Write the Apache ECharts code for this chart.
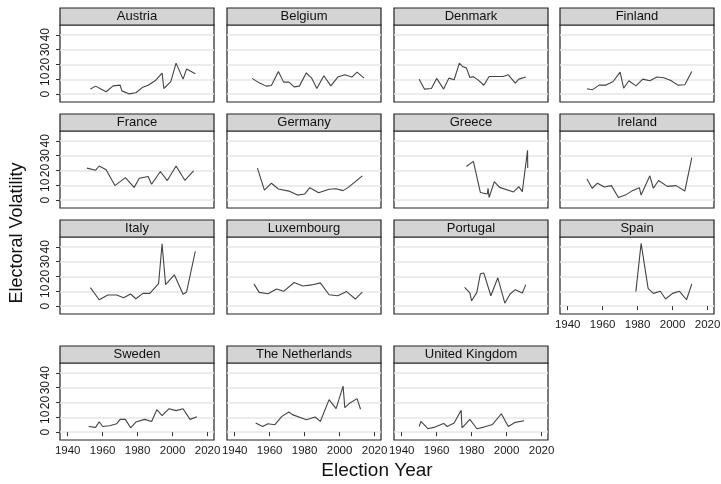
<!DOCTYPE html>
<html>
<head>
<meta charset="utf-8">
<script src="https://cdn.jsdelivr.net/npm/echarts@6/dist/echarts.min.js"></script>
<style>
html,body{margin:0;padding:0;background:#fff;}
#chart{width:721px;height:484px;}
</style>
</head>
<body>
<div id="chart"></div>
<script>
const countries = ['Austria','Belgium','Denmark','Finland','France','Germany','Greece','Ireland','Italy','Luxembourg','Portugal','Spain','Sweden','The Netherlands','United Kingdom'];
const xTicks = [1940,1960,1980,2000,2020];
const yTicks = [0,10,20,30,40];

const austria = [[1953,3.4],[1956,5.4],[1959,3.4],[1962,1.6],[1966,5.6],[1970,6.1],[1971,2.2],[1975,0.2],[1979,0.9],[1983,4.7],[1986,6],[1990,9],[1994,14.2],[1995,3.8],[1999,8.5],[2002,20.9],[2006,10.1],[2008,16.9],[2013,13.7]];
const belgium = [[1950,10.6],[1954,7.6],[1958,5.4],[1961,5.8],[1965,15.3],[1968,8.1],[1971,8.1],[1974,4.9],[1977,5.4],[1981,14.4],[1984,10.8],[1987,3.8],[1991,12.4],[1995,5.6],[1999,11.5],[2003,13],[2007,11.5],[2010,14.8],[2014,10.8]];
const denmark = [[1950,10.1],[1953,3.4],[1957,3.8],[1960,10.6],[1964,3.4],[1967,10.8],[1970,9.7],[1973,20.9],[1975,18.4],[1977,17.7],[1979,11.2],[1981,11.8],[1984,9.3],[1987,6],[1990,11.9],[1994,11.9],[1998,11.9],[2001,13],[2005,7.4],[2007,10.1],[2011,11.5]];
const finland = [[1951,3.6],[1954,2.9],[1958,6.1],[1962,6.1],[1966,8.5],[1970,14.8],[1972,4],[1975,9],[1979,5.6],[1983,10.1],[1987,9],[1991,11.5],[1995,11],[1999,9.2],[2003,6.1],[2007,6.3],[2011,15.3]];
const france = [[1951,21.6],[1956,20.2],[1958,23],[1962,20.5],[1967,9.8],[1973,15.2],[1978,8.6],[1981,14.8],[1986,15.9],[1988,10.7],[1993,19.3],[1997,13.2],[2002,23],[2007,13.4],[2012,19.8]];
const germany = [[1953,21.6],[1957,6.8],[1961,11.4],[1965,7.5],[1971,6.1],[1976,3.4],[1980,4.1],[1983,8.4],[1988,5],[1994,7.3],[1998,7.7],[2002,6.4],[2005,8.6],[2009,12.5],[2013,16.4]];
const greece = [[1977,22.7],[1981,26.1],[1985,5.2],[1989,4.1],[1989.4,8],[1990,1.8],[1993,12.5],[1996,8.6],[2004,5.5],[2007,9.1],[2009,5.7],[2012,33.6],[2012.1,21.6]];
const ireland = [[1951,14.3],[1954,8],[1957,11.4],[1961,8.9],[1965,9.8],[1969,1.8],[1973,3.4],[1977,6.4],[1981,8.4],[1982,3.4],[1987,16.4],[1989,8],[1992,13.2],[1997,9.3],[2002,9.8],[2007,6.1],[2011,28.6]];
const italy = [[1953,12.5],[1958,4.3],[1963,7.5],[1968,7.5],[1972,5.7],[1976,8.2],[1979,5],[1983,8.6],[1987,8.6],[1992,15.2],[1994,42],[1996,14.5],[2001,21.1],[2006,8],[2008,9.5],[2013,37]];
const luxembourg = [[1951,15],[1954,9.3],[1959,8.4],[1964,11.6],[1968,10],[1974,15.9],[1979,13.6],[1984,14.3],[1989,15.7],[1994,7.7],[1999,7],[2004,9.8],[2009,4.8],[2013,9.5]];
const portugal = [[1976,12.7],[1979,8.9],[1980,3.6],[1983,9.3],[1985,21.8],[1987,22.3],[1991,7],[1995,19.1],[1999,2],[2002,8.2],[2005,11.1],[2009,8.9],[2011,14.5]];
const spain = [[1979,9.8],[1982,42.3],[1986,12],[1989,8.6],[1993,10],[1996,4.8],[2000,8.6],[2004,10],[2008,4.3],[2011,15]];
const sweden = [[1952,3.8],[1956,3.2],[1958,7],[1960,3.8],[1964,4.3],[1968,5.6],[1970,8.6],[1973,8.6],[1976,2.9],[1979,6.8],[1984,8.6],[1988,7.2],[1991,15.1],[1994,11.1],[1998,15.8],[2002,14.5],[2006,15.8],[2010,8.6],[2014,10.4]];
const netherlands = [[1952,6.1],[1956,3.8],[1959,5.6],[1963,5],[1967,10.6],[1971,13.6],[1973,11.8],[1981,8.4],[1986,10.2],[1989,7.2],[1994,21.9],[1998,15.8],[2002,31],[2003,16.5],[2006,19.7],[2010,22.6],[2012,15.4]];
const uk = [[1950,3.8],[1951,7.2],[1955,2.3],[1959,3.4],[1964,5.9],[1966,3.8],[1970,6.1],[1974,14.7],[1974.5,2.9],[1979,8.6],[1983,2.3],[1987,3.4],[1992,5.2],[1997,12.4],[2001,3.8],[2005,6.6],[2010,7.7]];

const seriesValues = [austria,belgium,denmark,finland,france,germany,greece,ireland,italy,luxembourg,portugal,spain,sweden,netherlands,uk];

const FONT = '"Liberation Sans", Arial, Helvetica, sans-serif';
const colLeft = [60,227,394,560];
const rowTop = [25,131,237,363];
const W = 154, H = 77, STRIP = 17;

const grids = [], xAxes = [], yAxes = [], series = [], graphics = [];
countries.forEach((name, i) => {
  const r = Math.floor(i/4), c = i % 4;
  const showX = (i === 11) || r === 3;
  const showY = c === 0;
  grids.push({left: colLeft[c], top: rowTop[r], width: W, height: H, show: true,
    borderColor: '#222', borderWidth: 1.2, backgroundColor: '#fff', containLabel: false, outerBoundsMode: 'none'});
  xAxes.push({type: 'value', gridIndex: i, min: 1935.6, max: 2023.7,
    axisLine: {show: false}, splitLine: {show: false},
    axisTick: {show: showX, customValues: xTicks, length: 4, lineStyle: {color: '#333'}},
    axisLabel: {show: showX, customValues: xTicks, formatter: v => String(v), fontSize: 11.5, color: '#1a1a1a', margin: 5, fontFamily: FONT}});
  yAxes.push({type: 'value', gridIndex: i, min: -5.3, max: 46.6,
    axisLine: {show: false},
    axisTick: {show: showY, customValues: yTicks, length: 4, lineStyle: {color: '#333'}},
    axisLabel: {show: showY, customValues: yTicks, formatter: v => String(v), rotate: 90, fontSize: 12, color: '#1a1a1a', margin: 8, fontFamily: FONT},
    splitLine: {show: true, lineStyle: {color: '#e6e6e6', width: 1.5}}});
  series.push({type: 'line', xAxisIndex: i, yAxisIndex: i, data: seriesValues[i],
    showSymbol: false, symbol: 'none', lineStyle: {color: '#444', width: 1.1}, silent: true, animation: false});
  graphics.push({type: 'rect', shape: {x: colLeft[c], y: rowTop[r] - STRIP, width: W, height: STRIP},
    style: {fill: '#d4d4d4', stroke: '#222', lineWidth: 1.2}});
  graphics.push({type: 'text', x: colLeft[c] + W/2, y: rowTop[r] - STRIP/2,
    style: {text: name, font: '13px ' + FONT, fill: '#111', textAlign: 'center', textVerticalAlign: 'middle'}});
});
graphics.push({type: 'text', x: 17, y: 233, rotation: Math.PI/2,
  style: {text: 'Electoral Volatility', font: '18px ' + FONT, fill: '#111', textAlign: 'center', textVerticalAlign: 'middle'}});
graphics.push({type: 'text', x: 377, y: 471,
  style: {text: 'Election Year', font: '19px ' + FONT, fill: '#111', textAlign: 'center', textVerticalAlign: 'middle'}});

const chart = echarts.init(document.getElementById('chart'), null, {renderer: 'canvas'});
chart.setOption({animation: false, grid: grids, xAxis: xAxes, yAxis: yAxes, series: series, graphic: graphics});
</script>
</body>
</html>
